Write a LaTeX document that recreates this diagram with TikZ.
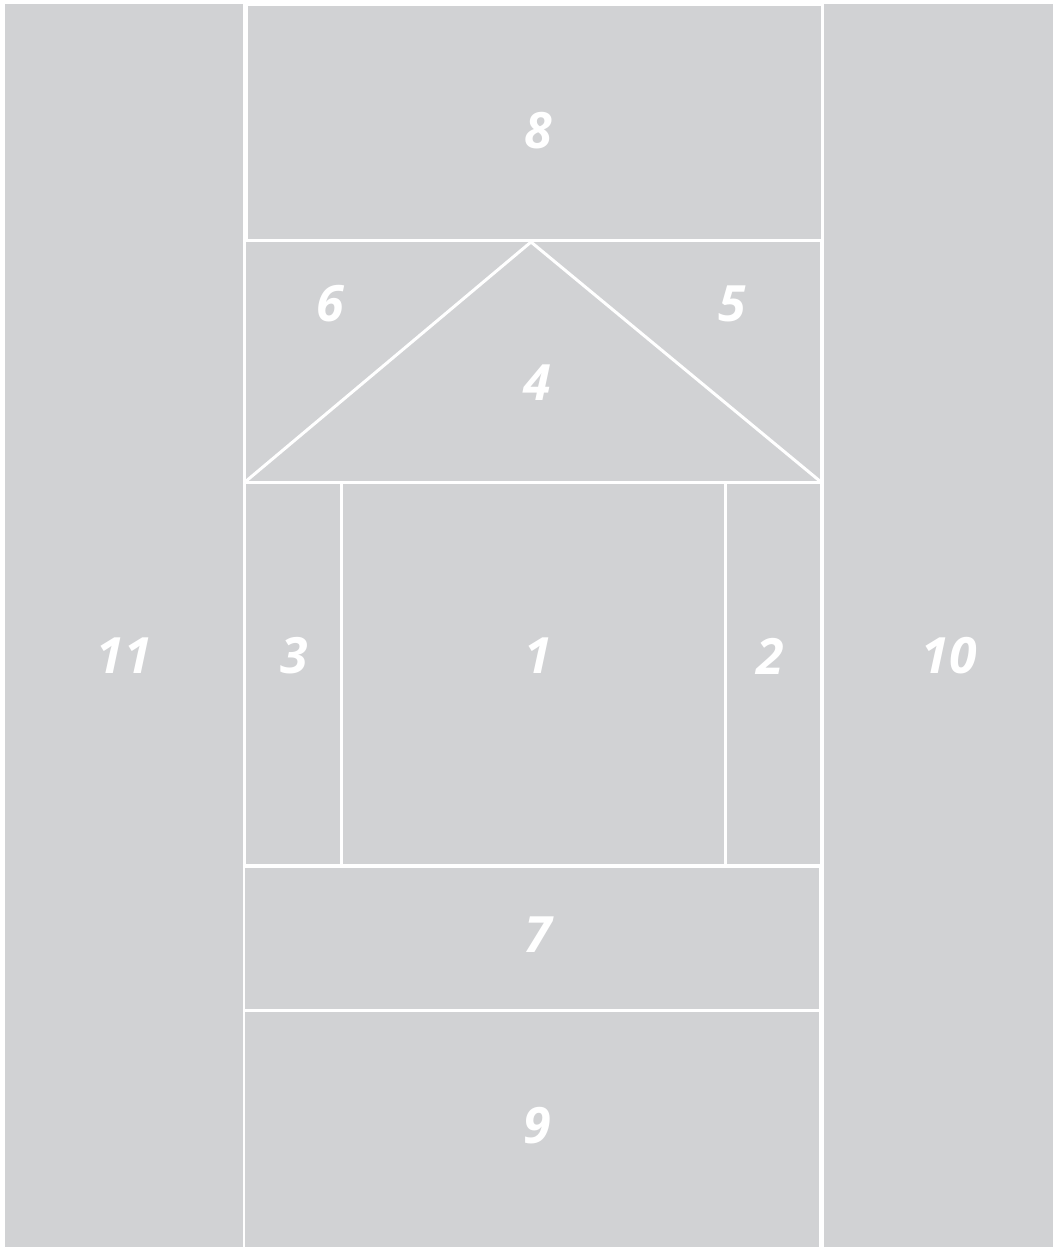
\documentclass[tikz,border=0pt]{standalone}
\usepackage{fontspec}
\setmainfont{Open Sans}
\definecolor{piece}{HTML}{D1D2D4}
\begin{document}
\begin{tikzpicture}[x=1pt,y=-1pt,
  piecefill/.style={fill=piece,draw=none},
  seam/.style={draw=white,line width=3pt},
  lbl/.style={text=white,font=\fontsize{50}{58}\selectfont\bfseries\itshape,inner sep=0pt,anchor=center}]
\useasboundingbox (0,0) rectangle (1053,1247);
\fill[white] (0,0) rectangle (1053,1247);
% pieces
\fill[piecefill] (5,4) rectangle (243,1247);      % 11
\fill[piecefill] (824,4) rectangle (1053,1247);   % 10
\fill[piecefill] (248,6) rectangle (821,239);     % 8
\fill[piecefill] (246,242) rectangle (820,481);   % 6,4,5
\fill[piecefill] (246,484) rectangle (340,864);   % 3
\fill[piecefill] (343,484) rectangle (724,864);   % 1
\fill[piecefill] (727,484) rectangle (820,864);   % 2
\fill[piecefill] (245,868) rectangle (819,1009);  % 7
\fill[piecefill] (245,1012) rectangle (819,1247); % 9
% triangle seams
\coordinate (bl) at (245,482);
\coordinate (apex) at (531,242);
\coordinate (br) at (821,482);
\draw[seam] (bl) -- (apex) -- (br);
% labels
\node[lbl] (n8) at (538,131) {8};
\node[lbl] (n6) at (330,304) {6};
\node[lbl] (n5) at (732,304) {5};
\node[lbl] (n4) at (537,383) {4};
\node[lbl] (n11) at (124,656) {11};
\node[lbl] (n3) at (294,656) {3};
\node[lbl] (n1) at (538,656) {1};
\node[lbl] (n2) at (770,656) {2};
\node[lbl] (n10) at (949,656) {10};
\node[lbl] (n7) at (538,935) {7};
\node[lbl] (n9) at (537,1126) {9};
\end{tikzpicture}
\end{document}
